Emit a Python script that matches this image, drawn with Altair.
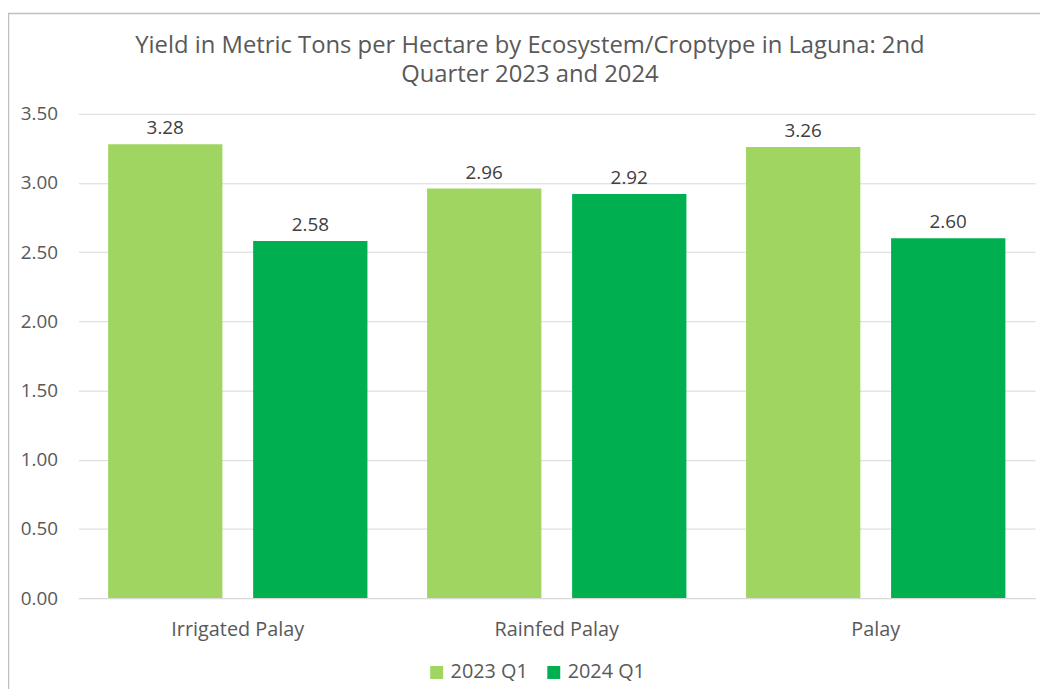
import altair as alt
import pandas as pd

categories = ["Irrigated Palay", "Rainfed Palay", "Palay"]
series = ["2023 Q1", "2024 Q1"]
values_2023 = [3.28, 2.96, 3.26]
values_2024 = [2.58, 2.92, 2.60]
colors = ["#A0D562", "#00B050"]
y_ticks = [0, 0.5, 1, 1.5, 2, 2.5, 3, 3.5]

rows = []
for c, a, b in zip(categories, values_2023, values_2024):
    rows.append({"cat": c, "series": series[0], "value": a})
    rows.append({"cat": c, "series": series[1], "value": b})
df = pd.DataFrame(rows)

FONT = "Open Sans"

x_enc = alt.X("cat:N", sort=categories, title=None,
              scale=alt.Scale(paddingInner=0.187, paddingOuter=0.093),
              axis=alt.Axis(labelAngle=0, labelFontSize=20, labelColor="#595959",
                            labelPadding=22, ticks=False, domainColor="#D9D9D9",
                            domainWidth=1.2, grid=False, labelFont=FONT))
xo_enc = alt.XOffset("series:N", sort=series,
                     scale=alt.Scale(paddingInner=0.212, paddingOuter=0))
y_enc = alt.Y("value:Q", title=None,
              scale=alt.Scale(domain=[0, 3.5], nice=False),
              axis=alt.Axis(values=y_ticks, format=".2f", labelFontSize=19,
                            labelColor="#595959", labelPadding=21, ticks=False,
                            domain=False, gridColor="#D9D9D9", gridWidth=1,
                            labelFont=FONT))

frame = alt.Chart(pd.DataFrame({"a": [0]})).mark_rect(
    filled=False, stroke="#BFBFBF", strokeWidth=1.5
).encode(x=alt.value(-70.5), x2=alt.value(980), y=alt.value(-101), y2=alt.value(600))

bars = alt.Chart(df).mark_bar().encode(
    x=x_enc, xOffset=xo_enc, y=y_enc,
    color=alt.Color("series:N", sort=series,
                    scale=alt.Scale(domain=series, range=colors),
                    legend=alt.Legend(title=None, orient="none", direction="horizontal",
                                      legendX=351, legendY=553, symbolType="square",
                                      symbolSize=170, symbolStrokeWidth=0,
                                      labelFontSize=20, labelColor="#595959",
                                      labelFont=FONT, columnPadding=16,
                                      labelOffset=4))
)

labels = alt.Chart(df).mark_text(
    baseline="alphabetic", dy=-10, fontSize=19, color="#404040", font=FONT
).encode(x=alt.X("cat:N", sort=categories), xOffset=alt.XOffset("series:N", sort=series),
         y="value:Q", text=alt.Text("value:Q", format=".2f"))

chart = alt.layer(frame, bars, labels).properties(
    width=964, height=488,
    autosize=alt.AutoSizeParams(type="none"),
    padding={"left": 71, "top": 104, "right": 5, "bottom": 89},
    background="white",
    title=alt.TitleParams(
        text=["Yield in Metric Tons per Hectare by Ecosystem/Croptype in Laguna: 2nd",
              "Quarter 2023 and 2024"],
        fontSize=24, font=FONT, fontWeight="normal", color="#595959",
        anchor="middle", dx=-27, offset=-75, lineHeight=30),
).configure_view(stroke=None)

chart.save("out.html", embed_options={"renderer": "svg", "actions": False})
